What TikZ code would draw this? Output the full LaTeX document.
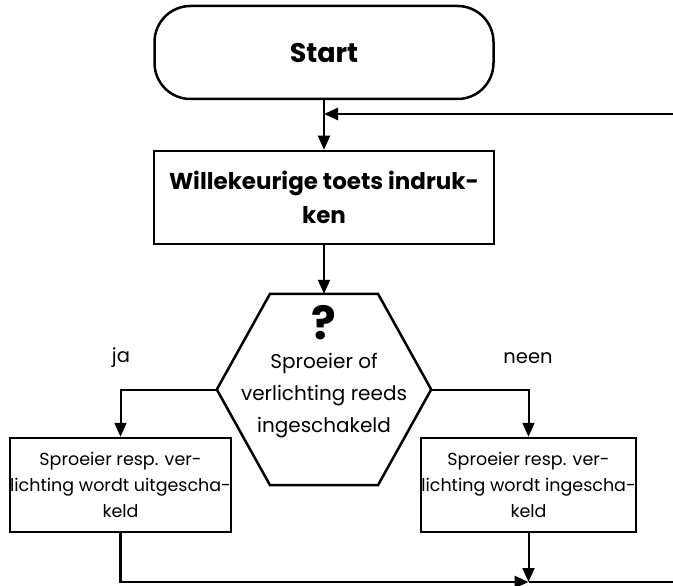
\documentclass[tikz,border=0pt]{standalone}
\usepackage{fontspec}
\setmainfont{Poppins}
\usetikzlibrary{arrows.meta,calc}
\begin{document}
\begin{tikzpicture}[x=1pt,y=-1pt,
  box/.style={draw,line width=2.5pt,inner sep=0pt,align=center},
  conn/.style={line width=2pt,-{Triangle[length=14pt,width=12pt]}},
  thick line/.style={line width=2.8pt},
  bigtext/.style={font=\bfseries\fontsize{23}{34}\selectfont},
  midtext/.style={font=\fontsize{20}{32}\selectfont,align=center},
  smalltext/.style={font=\fontsize{17.5}{26}\selectfont},
  lbl/.style={font=\fontsize{19.5}{22}\selectfont}]
\useasboundingbox (0,0) rectangle (673,586);
\node[box,rounded corners=36pt,minimum width=339pt,minimum height=93pt,font=\bfseries\fontsize{27}{30}\selectfont] (start) at (324,52.5) {Start};
\node[box,minimum width=340pt,minimum height=93pt,bigtext] (key) at (324,197.5) {Willekeurige toets indruk-\\ken};
\node[minimum width=214pt,minimum height=191pt,inner sep=0pt] (dec) at (324,389.5) {};
\draw[line width=2.5pt,line join=miter] ($(dec.north)+(-54,0)$) -- ($(dec.north)+(54,0)$) -- (dec.east) -- ($(dec.south)+(54,0)$) -- ($(dec.south)+(-54,0)$) -- (dec.west) -- cycle;
\node[font=\bfseries\fontsize{46}{46}\selectfont,inner sep=0pt] (q) at (324,323) {?};
\node[midtext,inner sep=0pt] (dtext) at (324,396) {Sproeier of\\verlichting reeds\\ingeschakeld};
\node[box,minimum width=215pt,minimum height=94pt,smalltext] (left) at (120.5,485) {Sproeier resp. ver-\\lichting wordt uitgescha-\\keld};
\node[box,minimum width=215pt,minimum height=94pt,smalltext] (right) at (528.5,485) {Sproeier resp. ver-\\lichting wordt ingescha-\\keld};
\node[lbl] (ja) at (121,358) {ja};
\node[lbl] (neen) at (528,358) {neen};
\coordinate (fbR) at (673,114);
\coordinate (bR) at (673,582);
\coordinate (junc) at (right.south |- bR);
\draw[conn] (start) -- (key);
\draw[conn,thick line] (fbR) -- (start.south |- fbR);
\draw[conn] (key) -- (dec.north);
\draw[conn] (dec.west) -| (left.north);
\draw[conn] (dec.east) -| (right.north);
\draw[conn,thick line] (left.south) |- (junc);
\draw[thick line] (junc) -- (bR);
\draw[conn] (right.south) -- (junc);
\end{tikzpicture}
\end{document}
